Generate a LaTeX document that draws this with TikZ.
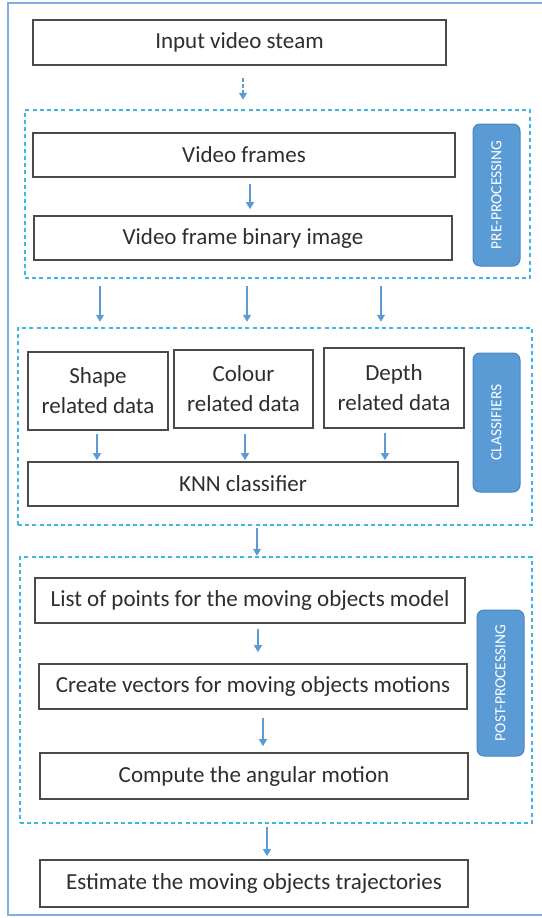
\documentclass[tikz,border=0pt]{standalone}
\usepackage{fontspec}
\setmainfont{Carlito}
\usetikzlibrary{arrows.meta}
\definecolor{framecol}{HTML}{7FB0E0}
\definecolor{groupcol}{HTML}{3DB6E8}
\definecolor{arrowcol}{HTML}{5B9BD5}
\definecolor{tagfill}{HTML}{5B9BD5}
\definecolor{tagedge}{HTML}{4A86C2}
\definecolor{boxedge}{HTML}{4A4A4A}
\definecolor{txtcol}{HTML}{2E2E2E}
\tikzset{
  stepbox/.style={draw=boxedge, line width=1.7pt, fill=white, text=txtcol,
    font=\fontsize{23}{26}\selectfont, inner sep=0pt, align=center},
  groupbox/.style={draw=groupcol, line width=2.5pt, dash pattern=on 4pt off 3.2pt,
    inner sep=0pt},
  tagbox/.style={draw=tagedge, line width=1pt, fill=tagfill, rounded corners=7pt,
    inner sep=0pt, minimum width=47pt},
  tagtext/.style={text=white, font=\fontsize{15.5}{18}\selectfont, rotate=90},
  flow/.style={draw=arrowcol, line width=1.3pt,
    -{Triangle[width=8pt,length=7pt]}},
}
\begin{document}
\begin{tikzpicture}[x=1pt,y=-1pt]
\useasboundingbox (0,0) rectangle (541,918);
% outer frame
\draw[framecol, line width=1.6pt] (8,3) rectangle (548,915);

% group frames
\node[groupbox, minimum width=505pt, minimum height=168pt] (pre) at (277.5,194) {};
\node[groupbox, minimum width=514pt, minimum height=197pt] (cls) at (275,426.5) {};
\node[groupbox, minimum width=512pt, minimum height=266pt] (post) at (276,690) {};

% steps
\node[stepbox, minimum width=413pt, minimum height=45pt] (input) at (239.5,42.5) {Input video steam};
\node[stepbox, minimum width=422pt, minimum height=44pt] (frames) at (244,155) {Video frames};
\node[stepbox, minimum width=418pt, minimum height=44pt] (binary) at (243,238) {Video frame binary image};

\node[stepbox, minimum width=140pt, minimum height=78pt] (shape) at (98,391) {Shape\\[4pt]related data};
\node[stepbox, minimum width=139pt, minimum height=78pt] (colour) at (243.5,389) {Colour\\[4pt]related data};
\node[stepbox, minimum width=140pt, minimum height=80pt] (depth) at (394,388) {Depth\\[4pt]related data};
\node[stepbox, minimum width=430pt, minimum height=44pt] (knn) at (243,484) {KNN classifier};

\node[stepbox, minimum width=430pt, minimum height=45pt] (list) at (250,600.5) {List of points for the moving objects model};
\node[stepbox, minimum width=428pt, minimum height=45pt] (vect) at (253,686.5) {Create vectors for moving objects motions};
\node[stepbox, minimum width=428pt, minimum height=46pt] (angle) at (254,776) {Compute the angular motion};
\node[stepbox, minimum width=428pt, minimum height=47pt] (estim) at (254,883.5) {Estimate the moving objects trajectories};

% stage tags
\node[tagbox, minimum height=142pt] (pretag) at (496.5,195) {};
\node[tagtext] at (pretag) {PRE-PROCESSING};
\node[tagbox, minimum height=139pt] (clstag) at (496.5,422.5) {};
\node[tagtext] at (clstag) {CLASSIFIERS};
\node[tagbox, minimum height=146pt] (posttag) at (500.5,683) {};
\node[tagtext] at (posttag) {POST-PROCESSING};

% arrow columns
\coordinate (c1) at (243,0);
\coordinate (c2) at (250,0);
\coordinate (p1) at (100,0);
\coordinate (p2) at (247,0);
\coordinate (p3) at (381,0);
\coordinate (k1) at (97,0);
\coordinate (k2) at (245,0);
\coordinate (k3) at (385,0);
\coordinate (c3) at (257,0);
\coordinate (c4) at (258,0);
\coordinate (c5) at (263,0);
\coordinate (c6) at (267,0);

% connectors
\draw[flow, dash pattern=on 4pt off 2pt, shorten <=12pt, shorten >=9pt] (input.south -| c1) -- (pre.north -| c1);
\draw[flow, shorten <=6pt, shorten >=6pt] (frames.south -| c2) -- (binary.north -| c2);
\draw[flow, shorten <=7pt, shorten >=5pt] (pre.south -| p1) -- (cls.north -| p1);
\draw[flow, shorten <=7pt, shorten >=5pt] (pre.south -| p2) -- (cls.north -| p2);
\draw[flow, shorten <=7pt, shorten >=5pt] (pre.south -| p3) -- (cls.north -| p3);
\draw[flow, shorten <=3pt, shorten >=1pt] (shape.south -| k1) -- (knn.north -| k1);
\draw[flow, shorten <=5pt, shorten >=1pt] (colour.south -| k2) -- (knn.north -| k2);
\draw[flow, shorten <=4pt, shorten >=1pt] (depth.south -| k3) -- (knn.north -| k3);
\draw[flow, shorten <=2pt, shorten >=0pt] (cls.south -| c3) -- (post.north -| c3);
\draw[flow, shorten <=5pt, shorten >=11pt] (list.south -| c4) -- (vect.north -| c4);
\draw[flow, shorten <=8pt, shorten >=6pt] (vect.south -| c5) -- (angle.north -| c5);
\draw[flow, shorten <=3pt, shorten >=3pt] (post.south -| c6) -- (estim.north -| c6);
\end{tikzpicture}
\end{document}
